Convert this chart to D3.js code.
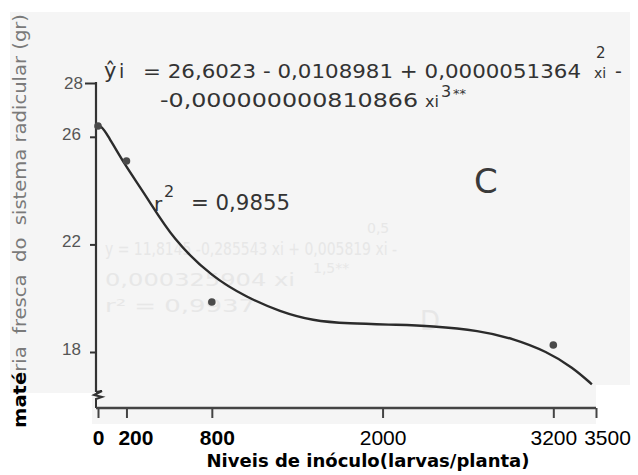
<!DOCTYPE html>
<html>
<head>
<meta charset="utf-8">
<script src="https://cdn.jsdelivr.net/npm/d3@7/dist/d3.min.js"></script>
<style>
  html, body { margin: 0; padding: 0; background: #ffffff; }
  svg { display: block; font-family: "DejaVu Sans", sans-serif; }
</style>
</head>
<body>
<svg id="chart" width="638" height="475"></svg>
<script>
// ---- data ----
const xTickValues = [0, 200, 800, 2000, 3200, 3500];
const xTickLabels = ["0", "200", "800", "2000", "3200", "3500"];
const yTickValues = [18, 22, 26, 28];
const yTickLabels = ["18", "22", "26", "28"];

// observed points (inoculum level, fresh root mass g)
const pointLevels = [0, 200, 800, 3200];
const pointValues = [26.4, 25.1, 19.86, 18.26];

// fitted curve
const curveLevels = [0, 20, 60, 176, 344, 527, 808, 1047, 1279, 1511, 1750, 2122, 2333, 2684, 2917, 3155, 3338, 3471];
const curveValues = [26.42, 26.4, 26.15, 25.05, 23.76, 22.18, 20.76, 20.03, 19.5, 19.16, 19.06, 19.01, 18.97, 18.8, 18.5, 18.02, 17.42, 16.8];

const eqLine1 = "= 26,6023 - 0,0108981 + 0,0000051364";
const eqLine2 = "-0,000000000810866";
const r2Text = "= 0,9855";
const panelLetter = "C";
const xTitle = "Niveis de inóculo(larvas/planta)";
const yTitleBold = "maté";
const yTitleRest = "ria  fresca  do  sistema radicular (gr)";

// ---- layout ----
const svg = d3.select("#chart");
const x = d3.scaleLinear().domain([0, 3500]).range([98, 596]);
const y = d3.scaleLinear().domain([18, 28]).range([352, 83]);
const xAxisY = 408;
const breakY = 392;
const ink = "#333333";

// scanned paper background
svg.append("rect").attr("x", 0).attr("y", 0).attr("width", 638).attr("height", 475).attr("fill", "#ffffff");
svg.append("rect").attr("x", 10).attr("y", 12).attr("width", 620).attr("height", 412).attr("fill", "#f5f5f5");
svg.append("rect").attr("x", 0).attr("y", 393).attr("width", 92).attr("height", 82).attr("fill", "#ffffff");
svg.append("rect").attr("x", 596).attr("y", 385).attr("width", 42).attr("height", 90).attr("fill", "#ffffff");

// faint bleed-through from the reverse page
const ghost = svg.append("g").attr("fill", "#e7e7e7").style("font-size", "17px");
ghost.append("text").attr("x", 105).attr("y", 255).attr("textLength", 292).attr("lengthAdjust", "spacingAndGlyphs")
  .text("y = 11,8145 -0,285543 xi + 0,005819 xi -");
ghost.append("text").attr("x", 367).attr("y", 233).style("font-size", "14px").text("0,5");
ghost.append("text").attr("x", 105).attr("y", 286).attr("textLength", 190).attr("lengthAdjust", "spacingAndGlyphs")
  .text("0,000325904 xi");
ghost.append("text").attr("x", 313).attr("y", 273).style("font-size", "14px").text("1,5**");
ghost.append("text").attr("x", 105).attr("y", 312).attr("textLength", 150).attr("lengthAdjust", "spacingAndGlyphs")
  .text("r² = 0,9937");
ghost.append("text").attr("x", 420).attr("y", 330).style("font-size", "26px").text("D");

// ---- Y axis ----
const yAxis = d3.axisLeft(y).tickValues(yTickValues).tickFormat((d, i) => yTickLabels[i]).tickSize(6).tickPadding(9);
const gy = svg.append("g").attr("transform", "translate(96,0)").call(yAxis);
gy.select(".domain").remove();
gy.selectAll(".tick line").attr("stroke", ink).attr("stroke-width", 2);
gy.selectAll(".tick text").attr("fill", "#555").style("font-size", "17px").attr("dy", "0.15em");
gy.selectAll(".tick").filter(d => d === 28).select("line").attr("x2", -11);
gy.selectAll(".tick").filter(d => d === 28).select("text").attr("x", -13).attr("dy", "0.35em");

// axis line with break
svg.append("line").attr("x1", 96).attr("x2", 96).attr("y1", y(28) - 1).attr("y2", breakY)
  .attr("stroke", ink).attr("stroke-width", 2.2);
svg.append("path").attr("d", `M96,${breakY} l6,-1 l-8,4 l8,2 l-6,2 L96,${xAxisY}`)
  .attr("fill", "none").attr("stroke", ink).attr("stroke-width", 2);

// ---- X axis ----
const xAxis = d3.axisBottom(x).tickValues(xTickValues).tickFormat((d, i) => xTickLabels[i]).tickSize(10).tickPadding(12);
const gx = svg.append("g").attr("transform", `translate(0,${xAxisY})`).call(xAxis);
gx.select(".domain").attr("d", `M${x(0) - 2},0H${x(3500)}`).attr("stroke", "#444").attr("stroke-width", 2.5);
gx.selectAll(".tick line").attr("stroke", "#444").attr("stroke-width", 2);
const labelNudge = { 200: 9, 800: 5, 3500: 11 };
const boldLabels = [0, 200, 800];
gx.selectAll(".tick text")
  .attr("fill", "#000")
  .style("font-size", "21px")
  .style("font-weight", d => boldLabels.includes(d) ? "bold" : "normal")
  .attr("dx", d => labelNudge[d] || 0);

// ---- curve ----
const line = d3.line().x((d, i) => x(curveLevels[i])).y((d, i) => y(curveValues[i])).curve(d3.curveBasis);
svg.append("path").datum(curveValues).attr("d", line)
  .attr("fill", "none").attr("stroke", "#2b2b2b").attr("stroke-width", 2.4);

// ---- points ----
svg.append("g").selectAll("circle").data(pointValues).join("circle")
  .attr("cx", (d, i) => x(pointLevels[i])).attr("cy", d => y(d)).attr("r", 3.8).attr("fill", "#4a4a4a");

// ---- equation text ----
const eq = svg.append("g").attr("fill", ink);
eq.append("text").attr("x", 104).attr("y", 78).style("font-size", "21px").text("ŷ");
eq.append("text").attr("x", 119).attr("y", 78).style("font-size", "19px").text("i");
eq.append("text").attr("x", 143).attr("y", 78).style("font-size", "19px")
  .attr("textLength", 438).attr("lengthAdjust", "spacingAndGlyphs").text(eqLine1);
eq.append("text").attr("x", 594).attr("y", 78).style("font-size", "14px").text("xi");
eq.append("text").attr("x", 596).attr("y", 58).style("font-size", "15px").text("2");
eq.append("text").attr("x", 615).attr("y", 78).style("font-size", "19px").text("-");
eq.append("text").attr("x", 160).attr("y", 107).style("font-size", "19px")
  .attr("textLength", 258).attr("lengthAdjust", "spacingAndGlyphs").text(eqLine2);
eq.append("text").attr("x", 425).attr("y", 107).style("font-size", "16px").text("xi");
eq.append("text").attr("x", 441).attr("y", 97).style("font-size", "16px").text("3");
eq.append("text").attr("x", 453).attr("y", 98).style("font-size", "13px").text("**");

// r squared
eq.append("text").attr("x", 154).attr("y", 211).style("font-size", "20px").text("r");
eq.append("text").attr("x", 164).attr("y", 197).style("font-size", "16px").text("2");
eq.append("text").attr("x", 191).attr("y", 210).style("font-size", "22px")
  .attr("textLength", 99).attr("lengthAdjust", "spacingAndGlyphs").text(r2Text);

// panel letter
svg.append("text").attr("x", 474).attr("y", 193).attr("fill", "#3a3a3a").style("font-size", "34px")
  .text(panelLetter);

// ---- axis titles ----
svg.append("text").attr("x", 368).attr("y", 467).attr("text-anchor", "middle").attr("fill", "#000")
  .style("font-size", "17px").style("font-weight", "bold")
  .attr("textLength", 323).attr("lengthAdjust", "spacingAndGlyphs").text(xTitle);

const yt = svg.append("text").attr("transform", "translate(26,428) rotate(-90)")
  .attr("textLength", 414).attr("lengthAdjust", "spacingAndGlyphs")
  .style("font-size", "18px").style("white-space", "pre");
yt.append("tspan").attr("fill", "#000").style("font-weight", "bold").text(yTitleBold);
yt.append("tspan").attr("fill", "#7a7a7a").text(yTitleRest);
</script>
</body>
</html>
